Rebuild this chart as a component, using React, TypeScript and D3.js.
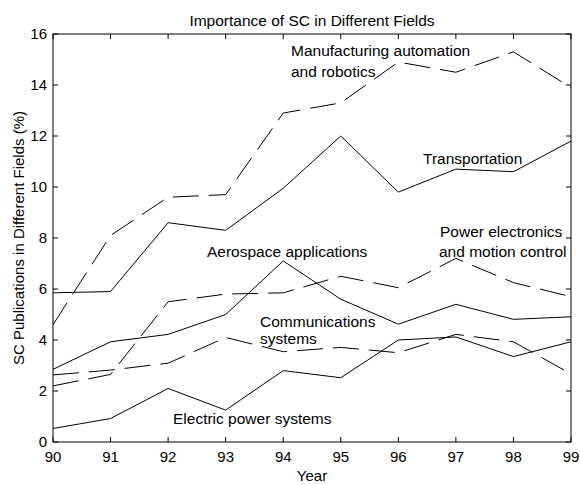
import React from 'react';
import * as d3 from 'd3';

const years = [90, 91, 92, 93, 94, 95, 96, 97, 98, 99];
const manufacturing = [4.6, 8.1, 9.6, 9.7, 12.9, 13.3, 14.9, 14.5, 15.3, 13.9];
const transportation = [5.85, 5.9, 8.6, 8.3, 9.95, 12.0, 9.8, 10.7, 10.6, 11.8];
const powerElectronics = [2.2, 2.65, 5.5, 5.8, 5.85, 6.5, 6.05, 7.2, 6.25, 5.7];
const aerospace = [2.85, 3.93, 4.22, 5.0, 7.1, 5.6, 4.62, 5.4, 4.81, 4.91];
const communications = [2.63, 2.82, 3.09, 4.1, 3.54, 3.71, 3.5, 4.22, 3.93, 2.67];
const electricPower = [0.53, 0.92, 2.1, 1.25, 2.8, 2.52, 4.0, 4.12, 3.35, 3.93];
const yTicks = [0, 2, 4, 6, 8, 10, 12, 14, 16];

const font = '"Liberation Sans", Arial, sans-serif';

export default function App() {
  const width = 580;
  const height = 485;
  const margin = { top: 34, right: 9, bottom: 43, left: 53 };

  const x = d3.scaleLinear()
    .domain([90, 99])
    .range([margin.left, width - margin.right]);
  const y = d3.scaleLinear()
    .domain([0, 16])
    .range([height - margin.bottom, margin.top]);

  const line = d3.line<number>()
    .x((d, i) => x(years[i]))
    .y(d => y(d));

  const series = [
    { values: manufacturing, dashed: true },
    { values: transportation, dashed: false },
    { values: powerElectronics, dashed: true },
    { values: aerospace, dashed: false },
    { values: communications, dashed: true },
    { values: electricPower, dashed: false },
  ];

  const x0 = x(90), x1 = x(99), y0 = y(0), y1 = y(16);
  const tick = 5;

  // annotations placed by hand next to their curves
  const labels = [
    { text: 'Manufacturing automation', x: 291, y: 56 },
    { text: 'and robotics', x: 291, y: 77 },
    { text: 'Transportation', x: 423, y: 164 },
    { text: 'Power electronics', x: 440, y: 237 },
    { text: 'and motion control', x: 439, y: 257 },
    { text: 'Aerospace applications', x: 207, y: 257 },
    { text: 'Communications', x: 260, y: 327 },
    { text: 'systems', x: 260, y: 344 },
    { text: 'Electric power systems', x: 173, y: 424 },
  ];

  return (
    <svg width={width} height={height} style={{ position: 'absolute', left: 0, top: 0, background: '#fff' }}
      fontFamily={font}>
      <rect x={0} y={0} width={width} height={height} fill="#fff" />
      <text x={(x0 + x1) / 2} y={26} textAnchor="middle" fontSize={15.5}>Importance of SC in Different Fields</text>

      {/* box */}
      <rect x={x0} y={y1} width={x1 - x0} height={y0 - y1} fill="none" stroke="#000" strokeWidth={1} />

      {years.map(v => (
        <g key={'x' + v}>
          <line x1={x(v)} x2={x(v)} y1={y0} y2={y0 - tick} stroke="#000" />
          <line x1={x(v)} x2={x(v)} y1={y1} y2={y1 + tick} stroke="#000" />
          <text x={x(v)} y={y0 + 20} textAnchor="middle" fontSize={15}>{v}</text>
        </g>
      ))}
      {yTicks.map(v => (
        <g key={'y' + v}>
          <line x1={x0} x2={x0 + tick} y1={y(v)} y2={y(v)} stroke="#000" />
          <line x1={x1} x2={x1 - tick} y1={y(v)} y2={y(v)} stroke="#000" />
          <text x={x0 - 6} y={y(v) + 5} textAnchor="end" fontSize={15}>{v}</text>
        </g>
      ))}

      {series.map((s, i) => (
        <path key={i} d={line(s.values) || ''} fill="none" stroke="#000" strokeWidth={1}
          strokeDasharray={s.dashed ? '26,10' : undefined} />
      ))}

      {labels.map((l, i) => (
        <text key={i} x={l.x} y={l.y} fontSize={15.5}>{l.text}</text>
      ))}

      <text x={(x0 + x1) / 2} y={481} textAnchor="middle" fontSize={15}>Year</text>
      <text transform={`translate(24,${(y0 + y1) / 2}) rotate(-90)`} textAnchor="middle" fontSize={15}>
        SC Publications in Different Fields (%)
      </text>
    </svg>
  );
}
